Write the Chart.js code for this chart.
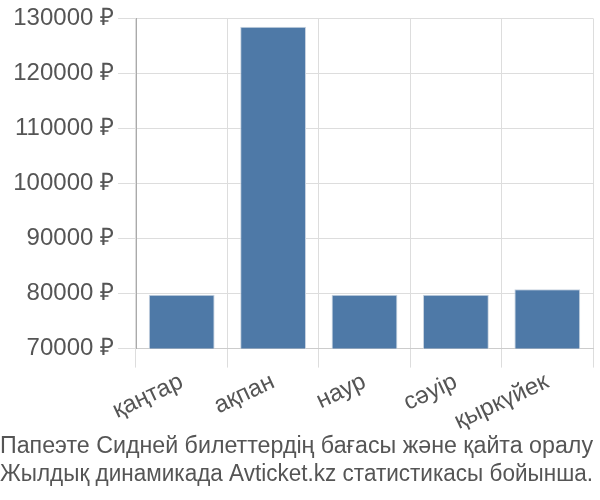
<!DOCTYPE html>
<html>
<head>
<meta charset="utf-8">
<script src="https://cdn.jsdelivr.net/npm/chart.js@4"></script>
<style>
  html, body { margin: 0; padding: 0; background: #fff; }
  #wrap { width: 600px; height: 500px; }
</style>
</head>
<body>
<div id="wrap"><canvas id="chart"></canvas></div>
<script>
const months = ["қаңтар", "ақпан", "наур", "сәуір", "қыркүйек"];
const prices = [79800, 128500, 79800, 79800, 80800];
const yTicks = [70000, 80000, 90000, 100000, 110000, 120000, 130000];
const titleLines = [
  "Папеэте Сидней билеттердің бағасы және қайта оралу",
  "Жылдық динамикада Avticket.kz статистикасы бойынша."
];

Chart.defaults.font.family = "'Liberation Sans', Arial, sans-serif";
Chart.defaults.color = "#555";

new Chart(document.getElementById("chart"), {
  type: "bar",
  data: {
    labels: months,
    datasets: [{
      data: prices,
      backgroundColor: "#4e79a7",
      borderColor: "#c8d3e0",
      borderWidth: { top: 1, left: 1, right: 1, bottom: 0 },
      barPercentage: 0.72,
      categoryPercentage: 1
    }]
  },
  options: {
    responsive: true,
    maintainAspectRatio: false,
    animation: false,
    layout: { padding: { top: 15, right: 7, left: 0, bottom: 0 } },
    plugins: {
      legend: { display: false },
      tooltip: { enabled: false },
      title: {
        display: true,
        position: "bottom",
        align: "start",
        text: titleLines,
        font: { size: 23.5, weight: "normal", lineHeight: 1.2 },
        color: "#555",
        padding: { top: 0, bottom: 11 }
      }
    },
    scales: {
      x: {
        offset: true,
        grid: { color: "#ddd", offset: true, tickLength: 19 },
        border: { color: "#ccc" },
        ticks: { font: { size: 24 }, color: "#555", minRotation: 25, maxRotation: 25, padding: 0 },
        afterFit: axis => { axis.height = 84; }
      },
      y: {
        min: yTicks[0],
        max: yTicks[yTicks.length - 1],
        afterBuildTicks: axis => { axis.ticks = yTicks.map(v => ({ value: v })); },
        grid: { color: "#ddd", tickLength: 18 },
        border: { color: "#aaa" },
        ticks: { font: { size: 24 }, color: "#555", padding: 4, callback: v => v + " ₽" },
        afterFit: axis => { axis.width = 136; }
      }
    }
  }
});
</script>
</body>
</html>
